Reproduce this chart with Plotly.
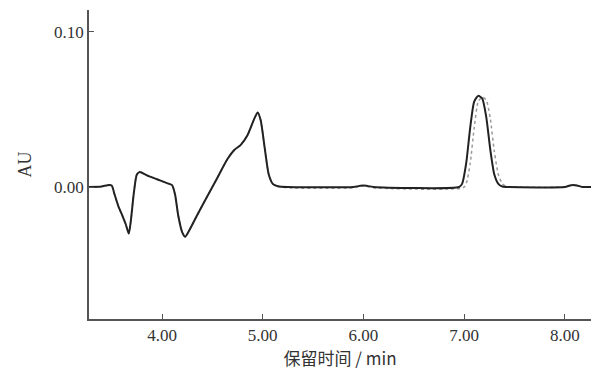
import plotly.graph_objects as go

# Sample 1 (solid)
t1 = [3.275, 3.40, 3.46, 3.50, 3.53, 3.57, 3.61, 3.64, 3.67, 3.69, 3.72, 3.75, 3.78, 3.85, 3.95,
      4.05, 4.10, 4.13, 4.16, 4.20, 4.23, 4.27, 4.35, 4.45, 4.55, 4.65, 4.72, 4.78, 4.85, 4.92,
      4.95, 4.98, 5.02, 5.06, 5.10, 5.15, 5.25, 5.90, 5.97, 6.00, 6.03, 6.10, 6.95, 6.98, 7.02,
      7.06, 7.10, 7.14, 7.18, 7.22, 7.26, 7.30, 7.34, 7.38, 7.45, 8.00, 8.05, 8.08, 8.12, 8.18, 8.26]
a1 = [0, 0.0003, 0.0012, 0.001, -0.005, -0.013, -0.019, -0.024, -0.030, -0.022, -0.004, 0.008,
      0.0097, 0.0075, 0.005, 0.0025, 0.0012, -0.005, -0.018, -0.029, -0.032, -0.028, -0.018,
      -0.006, 0.006, 0.018, 0.024, 0.027, 0.0335, 0.0445, 0.048, 0.043, 0.025, 0.008, 0.002,
      0.0005, 0, 0, 0.0008, 0.001, 0.0008, 0, 0, 0.002, 0.015, 0.038, 0.055, 0.0587, 0.057,
      0.045, 0.024, 0.008, 0.002, 0.0003, 0, 0, 0.001, 0.0013, 0.001, 0, 0]

# Sample 2 (dotted) - main peak retained slightly later
t2 = [3.275, 3.40, 3.46, 3.50, 3.53, 3.57, 3.61, 3.64, 3.67, 3.69, 3.72, 3.75, 3.78, 3.85, 3.95,
      4.05, 4.10, 4.13, 4.16, 4.20, 4.23, 4.27, 4.35, 4.45, 4.55, 4.65, 4.72, 4.78, 4.85, 4.92,
      4.95, 4.98, 5.02, 5.06, 5.10, 5.15, 5.25, 5.90, 5.97, 6.00, 6.03, 6.10, 6.99, 7.02, 7.06,
      7.10, 7.14, 7.18, 7.22, 7.26, 7.30, 7.34, 7.38, 7.42, 7.49, 8.00, 8.05, 8.08, 8.12, 8.18, 8.26]
a2 = [0, 0.0003, 0.0012, 0.001, -0.005, -0.013, -0.019, -0.024, -0.030, -0.022, -0.004, 0.008,
      0.0097, 0.0075, 0.005, 0.0025, 0.0012, -0.005, -0.018, -0.029, -0.032, -0.028, -0.018,
      -0.006, 0.006, 0.018, 0.024, 0.027, 0.0335, 0.0445, 0.048, 0.043, 0.025, 0.008, 0.002,
      0.0005, -0.0005, -0.0005, 0.0005, 0.0008, 0.0005, -0.0005, -0.0005, 0.002, 0.015, 0.038,
      0.055, 0.058, 0.056, 0.044, 0.023, 0.008, 0.002, 0.0003, 0, 0, 0.001, 0.0013, 0.001, 0, 0]

x_ticks = [4, 5, 6, 7, 8]
x_labels = ["4.00", "5.00", "6.00", "7.00", "8.00"]
y_ticks = [0.0, 0.10]
y_labels = ["0.00", "0.10"]

fig = go.Figure()
fig.add_trace(go.Scatter(x=t2, y=a2, mode="lines",
                         line=dict(color="#9a9a9a", width=1.5, dash="dot", shape="spline", smoothing=0.6),
                         showlegend=False))
fig.add_trace(go.Scatter(x=t1, y=a1, mode="lines",
                         line=dict(color="#222222", width=2, shape="spline", smoothing=0.6),
                         showlegend=False))

serif = "Times New Roman, Liberation Serif, serif"
tickfont = dict(family=serif, size=17, color="#333333")
fig.update_layout(
    width=591, height=372,
    margin=dict(l=89, r=0, t=10, b=53),
    paper_bgcolor="white", plot_bgcolor="white",
    font=dict(family=serif, size=17, color="#333333"),
    xaxis=dict(range=[3.275, 8.26], tickvals=x_ticks, ticktext=x_labels,
               tickfont=tickfont, automargin=False,
               ticks="inside", ticklen=5, tickcolor="#555555", tickwidth=1,
               showline=True, linecolor="#555555", linewidth=1.5,
               showgrid=False, zeroline=False,
               title=dict(text="保留时间 / min", standoff=6,
                          font=dict(family="Noto Sans CJK SC", size=17, color="#333333"))),
    yaxis=dict(range=[-0.085, 0.114], tickvals=y_ticks, ticktext=y_labels,
               tickfont=tickfont, automargin=False,
               ticks="inside", ticklen=5, tickcolor="#555555", tickwidth=1,
               showline=True, linecolor="#555555", linewidth=1.5,
               showgrid=False, zeroline=False,
               title=dict(text="AU", standoff=18, font=dict(family=serif, size=18, color="#333333"))),
)

fig.write_html("out.html", config={"displayModeBar": False},
               post_script="document.body.style.margin='0';document.body.style.overflow='hidden';")
